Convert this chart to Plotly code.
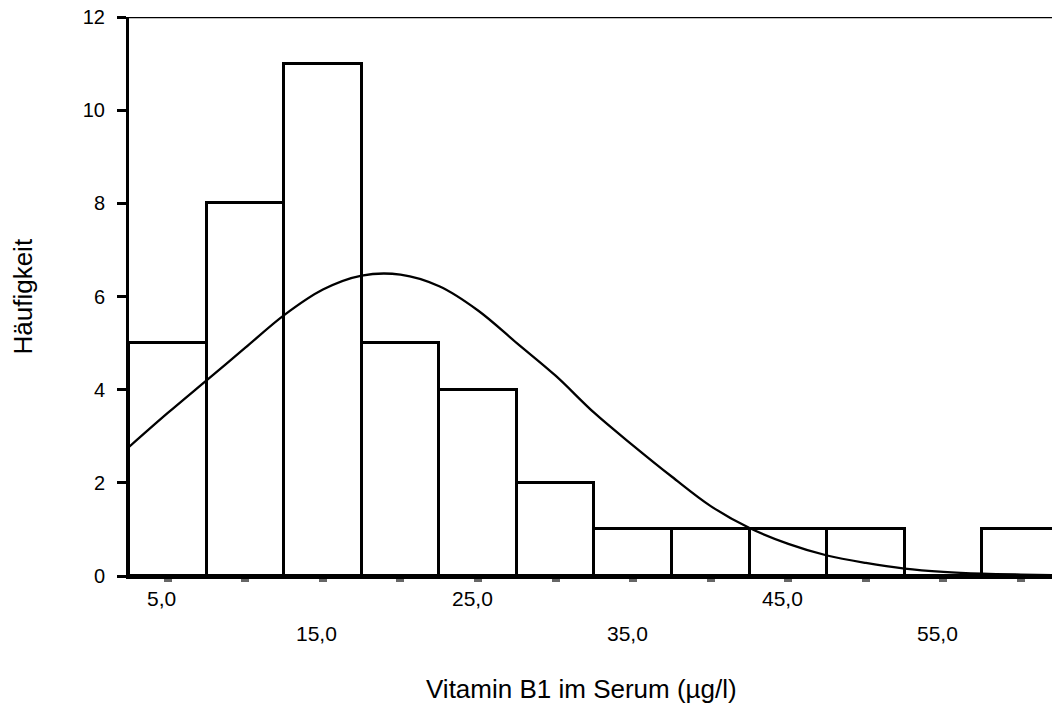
import plotly.graph_objects as go

# Histogram data (bin centres, counts)
bin_centers = [5, 10, 15, 20, 25, 30, 35, 40, 45, 50, 55, 60]
counts = [5, 8, 11, 5, 4, 2, 1, 1, 1, 1, 0, 1]
bin_width = 5

# Normal curve
curve_x = [2.5, 5, 7.5, 10, 12.5, 15, 17.5, 20, 22.5, 25, 27.5, 30, 32.5, 35,
           37.5, 40, 42.5, 45, 47.5, 50, 52.5, 55, 57.5, 60, 62]
curve_y = [2.77, 3.5, 4.2, 4.9, 5.6, 6.15, 6.45, 6.47, 6.22, 5.7, 5.0, 4.3, 3.5, 2.8,
           2.13, 1.5, 1.03, 0.69, 0.44, 0.28, 0.16, 0.09, 0.05, 0.03, 0.02]

x_tick_vals = [5, 10, 15, 20, 25, 30, 35, 40, 45, 50, 55, 60]
x_label_vals = [5, 15, 25, 35, 45, 55]
x_label_text = ["5,0", "15,0", "25,0", "35,0", "45,0", "55,0"]
y_tick_vals = [0, 2, 4, 6, 8, 10, 12]

FONT = "Liberation Sans, Arial, Helvetica, sans-serif"

fig = go.Figure()
fig.add_trace(go.Bar(
    x=bin_centers, y=counts, width=bin_width,
    marker=dict(color="white", line=dict(color="black", width=3)),
    showlegend=False, hoverinfo="x+y",
))
fig.add_trace(go.Scatter(
    x=curve_x, y=curve_y, mode="lines",
    line=dict(color="black", width=2.3, shape="spline"),
    showlegend=False,
))

annotations = []
for i, (v, t) in enumerate(zip(x_label_vals, x_label_text)):
    annotations.append(dict(
        x=v, xref="x", y=0, yref="paper", text=t, showarrow=False,
        xanchor="center", yanchor="middle", xshift=-6,
        yshift=-22 if i % 2 == 0 else -57,
        font=dict(family=FONT, size=21, color="black"),
    ))
annotations.append(dict(
    x=0.5, xref="paper", y=0, yref="paper", yanchor="middle", xshift=-9, yshift=-113,
    text="Vitamin B1 im Serum (µg/l)", showarrow=False,
    font=dict(family=FONT, size=26, color="black"),
))
annotations.append(dict(
    x=0, xref="paper", y=0.5, yref="paper", xanchor="center", yanchor="middle",
    xshift=-107, textangle=-90,
    text="Häufigkeit", showarrow=False,
    font=dict(family=FONT, size=26, color="black"),
))

fig.update_layout(
    width=1052, height=715,
    margin=dict(l=129, r=0, t=17, b=139),
    paper_bgcolor="white", plot_bgcolor="white",
    bargap=0,
    xaxis=dict(
        range=[2.5, 62], showgrid=False, zeroline=False, automargin=False,
        showline=True, linecolor="black", linewidth=3,
        tickmode="array", tickvals=x_tick_vals, ticks="outside",
        ticklen=3, tickwidth=8, tickcolor="#666666", showticklabels=False,
    ),
    yaxis=dict(
        range=[0, 12], showgrid=False, zeroline=False, automargin=False,
        showline=True, linecolor="black", linewidth=3,
        tickmode="array", tickvals=y_tick_vals, ticks="outside",
        ticklen=9, tickwidth=3, tickcolor="black",
        ticklabelstandoff=8, ticklabeloverflow="allow",
        tickfont=dict(family=FONT, size=20, color="black"),
    ),
    shapes=[dict(type="line", xref="paper", yref="y", x0=0, x1=1, y0=12, y1=12,
                 line=dict(color="black", width=2.5))],
    annotations=annotations,
)
# remove the default page margin so the figure fills the window exactly
fig.write_html(
    "out.html",
    config={"displayModeBar": False},
    post_script="document.body.style.margin='0';document.body.style.overflow='hidden';",
)
